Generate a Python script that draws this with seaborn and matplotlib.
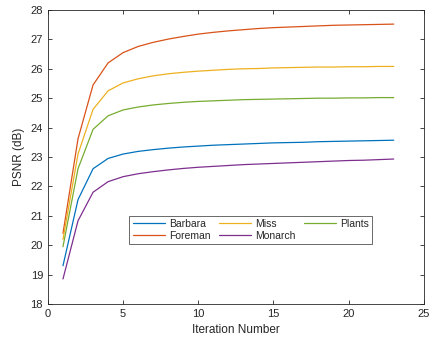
import numpy as np
import pandas as pd
import matplotlib
matplotlib.use('Agg')
import matplotlib.pyplot as plt
import seaborn as sns

iterations = list(range(1, 24))
barbara = [19.30, 21.55, 22.60, 22.95, 23.10, 23.19, 23.25, 23.30, 23.34, 23.37, 23.40, 23.42,
           23.44, 23.46, 23.48, 23.49, 23.50, 23.52, 23.53, 23.54, 23.55, 23.56, 23.57]
foreman = [20.40, 23.62, 25.45, 26.20, 26.55, 26.76, 26.90, 27.01, 27.10, 27.18, 27.24, 27.29,
           27.33, 27.37, 27.40, 27.42, 27.44, 27.46, 27.48, 27.49, 27.50, 27.51, 27.52]
miss = [20.20, 23.10, 24.62, 25.25, 25.52, 25.66, 25.76, 25.83, 25.88, 25.92, 25.95, 25.98,
        26.00, 26.01, 26.03, 26.04, 26.05, 26.06, 26.06, 26.07, 26.07, 26.08, 26.08]
monarch = [18.85, 20.83, 21.80, 22.16, 22.33, 22.43, 22.50, 22.56, 22.61, 22.65, 22.68, 22.71,
           22.74, 22.76, 22.78, 22.80, 22.82, 22.84, 22.86, 22.88, 22.89, 22.91, 22.93]
plants = [19.95, 22.60, 23.94, 24.40, 24.60, 24.70, 24.77, 24.82, 24.86, 24.89, 24.91, 24.93,
          24.95, 24.96, 24.97, 24.98, 24.99, 25.00, 25.00, 25.01, 25.01, 25.02, 25.02]

series = {'Barbara': barbara, 'Foreman': foreman, 'Miss': miss, 'Monarch': monarch, 'Plants': plants}
colors = ['#0072BD', '#D95319', '#EDB120', '#7E2F8E', '#77AC30']

df = pd.concat([pd.DataFrame({'Iteration': iterations, 'PSNR': v, 'Image': k})
                for k, v in series.items()], ignore_index=True)

sns.set_style('ticks')
plt.rcParams['font.family'] = ['Liberation Sans', 'DejaVu Sans']

fig = plt.figure(figsize=(4.32, 3.45), dpi=100)
ax = fig.add_axes([0.111, 0.119, 0.870, 0.852])
sns.lineplot(data=df, x='Iteration', y='PSNR', hue='Image', palette=colors, ax=ax, linewidth=0.9)

ax.set_xlim(0, 25)
ax.set_ylim(18, 28)
ax.set_xticks([0, 5, 10, 15, 20, 25])
ax.set_yticks(range(18, 29))
ax.set_xlabel('Iteration Number', fontsize=8.5, color='#262626')
ax.set_ylabel('PSNR (dB)', fontsize=8.5, color='#262626')
ax.tick_params(direction='in', top=True, right=True, labelsize=8, length=3, width=0.6,
               colors='#262626')
for s in ax.spines.values():
    s.set_linewidth(0.6)
    s.set_color('#262626')

leg = ax.legend(ncol=3, loc='center', bbox_to_anchor=(0.54, 0.252), fontsize=7.5,
                frameon=True, fancybox=False, edgecolor='#262626', handlelength=3.1,
                columnspacing=0.8, handletextpad=0.4, borderpad=0.3, labelspacing=0.2)
leg.get_frame().set_linewidth(0.6)

fig.savefig('out.png', dpi=100)
